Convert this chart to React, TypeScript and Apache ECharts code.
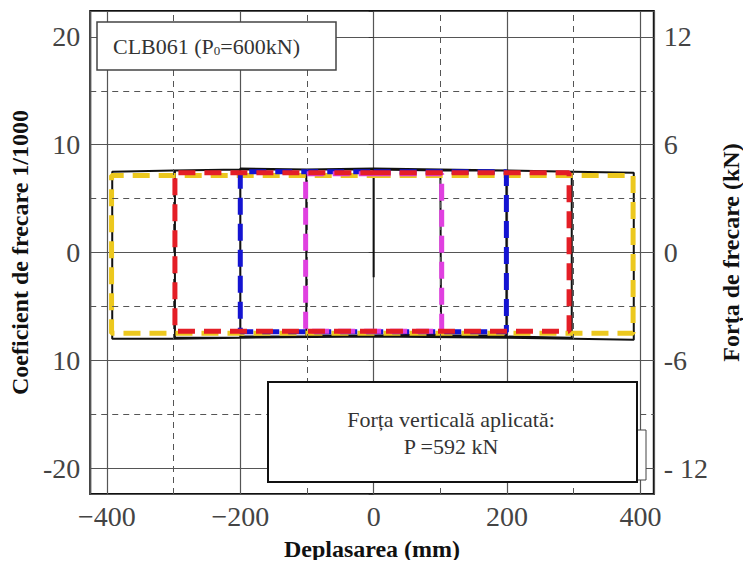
import React, { useEffect, useRef } from "react";
import * as echarts from "echarts";

// ---- data ----
const xLabelValues = [-400, -200, 0, 200, 400];
const xLabelTexts = ["\u2212400", "\u2212200", "0", "200", "400"];
const leftLabelValues = [20, 10, 0, -10, -20];
const leftLabelTexts = ["20", "10", "0", "10", "-20"];
const rightLabelTexts = ["12", "6", "0", "-6", "- 12"];
const minorGridX = [-300, -100, 100, 300];
const minorGridY = [-15, -5, 5, 15];

// measured cyclic test traces: [displacement mm, friction coefficient 1/1000]
const blackTrace: [number, number][] = [
  [0, -2.3], [0, 7.7], [100, 7.6], [101, -7.6], [0, -7.7], [-101, -7.7], [-101, 7.7],
  [0, 7.8], [199, 7.6], [199, -7.7], [0, -7.7], [-200, -7.8], [-200, 7.8], [-100, 7.7],
  [0, 7.7], [200, 7.6], [297, 7.5], [297, -7.9], [200, -7.8], [0, -7.8], [-200, -7.9],
  [-298, -7.9], [-298, 7.6], [-200, 7.7], [0, 7.7], [200, 7.6], [300, 7.5], [390, 7.4],
  [390, -8.1], [300, -8.0], [200, -7.9], [0, -7.8], [-200, -7.9], [-300, -8.0],
  [-392, -8.0], [-392, 7.5], [-300, 7.6], [-200, 7.7], [-100, 7.7], [0, 7.7]
];
const loop100: [number, number][] = [
  [0, 7.3], [102, 7.3], [102, -7.3], [-102, -7.3], [-102, 7.3], [0, 7.3]
];
const loop200: [number, number][] = [
  [0, 7.5], [199, 7.5], [199, -7.35], [-200, -7.35], [-200, 7.5], [0, 7.5]
];
const loop300: [number, number][] = [
  [0, 7.4], [293, 7.4], [293, -7.3], [-298, -7.3], [-298, 7.4], [0, 7.4]
];
const loop400: [number, number][] = [
  [0, 7.15], [389, 7.15], [389, -7.5], [-393, -7.5], [-393, 7.15], [0, 7.15]
];

const SERIF = "Liberation Serif";

function pick(values: number[], texts: string[], v: number): string {
  for (let i = 0; i < values.length; i++) {
    if (Math.abs(values[i] - v) < 1e-6) return texts[i];
  }
  return "";
}

export default function App() {
  const ref = useRef<HTMLDivElement>(null);

  useEffect(() => {
    if (!ref.current) return;
    const chart = echarts.init(ref.current, undefined, { renderer: "svg" });

    const dashed = (name: string, data: [number, number][], color: string, z: number) => ({
      name,
      type: "line",
      data,
      symbol: "none",
      z,
      lineStyle: { color, width: 5, type: [17, 9], cap: "butt" },
    });

    const option: any = {
      animation: false,
      backgroundColor: "#ffffff",
      textStyle: { fontFamily: SERIF },
      grid: {
        left: 87, right: 94, top: 11, bottom: 74,
        show: true, borderColor: "#111", borderWidth: 2, backgroundColor: "transparent",
      },
      xAxis: {
        type: "value", min: -425, max: 420, splitNumber: 5,
        name: "Deplasarea (mm)", nameLocation: "middle", nameGap: 43,
        nameTextStyle: { fontFamily: SERIF, fontWeight: "bold", fontSize: 24, color: "#111" },
        axisLine: { show: false }, axisTick: { show: false },
        axisLabel: {
          fontFamily: SERIF, fontSize: 28, color: "#444", margin: 8,
          formatter: (v: number) => pick(xLabelValues, xLabelTexts, v),
        },
        splitLine: { show: true, lineStyle: { color: "#555", width: 1.2 } },
      },
      yAxis: [
        {
          type: "value", min: -22.4, max: 22.4, splitNumber: 5, position: "left",
          name: "Coeficient de frecare 1/1000", nameLocation: "middle", nameGap: 52, nameRotate: 90,
          nameTextStyle: { fontFamily: SERIF, fontWeight: "bold", fontSize: 24, color: "#111" },
          axisLine: { show: false },
          axisTick: { show: true, length: 5, lineStyle: { color: "#333" } },
          axisLabel: {
            fontFamily: SERIF, fontSize: 28, color: "#444", margin: 10,
            formatter: (v: number) => pick(leftLabelValues, leftLabelTexts, v),
          },
          splitLine: { show: true, lineStyle: { color: "#555", width: 1.2 } },
        },
        {
          type: "value", min: -22.4, max: 22.4, splitNumber: 5, position: "right",
          name: "Forța de frecare (kN)", nameLocation: "middle", nameGap: 64, nameRotate: 90,
          nameTextStyle: { fontFamily: SERIF, fontWeight: "bold", fontSize: 24, color: "#111" },
          axisLine: { show: false }, axisTick: { show: false },
          axisLabel: {
            fontFamily: SERIF, fontSize: 28, color: "#444", margin: 10,
            formatter: (v: number) => pick(leftLabelValues, rightLabelTexts, v),
          },
          splitLine: { show: false },
        },
      ],
      series: [
        {
          name: "grid-minor", type: "line", data: [], z: 1, silent: true,
          markLine: {
            silent: true, symbol: "none", label: { show: false },
            lineStyle: { color: "#555", width: 1, type: [6, 5] },
            data: [
              ...minorGridX.map((v) => ({ xAxis: v })),
              ...minorGridY.map((v) => ({ yAxis: v })),
            ],
          },
        },
        {
          name: "measured", type: "line", data: blackTrace, symbol: "none", z: 3,
          lineStyle: { color: "#111", width: 2 },
        },
        dashed("±400 mm", loop400, "#ECC81E", 4),
        dashed("±200 mm", loop200, "#1414D2", 5),
        dashed("±100 mm", loop100, "#E040E0", 6),
        dashed("±300 mm", loop300, "#E41E26", 7),
      ],
      graphic: [
        {
          type: "rect", z: 100,
          shape: { x: 97, y: 22, width: 239, height: 48 },
          style: { fill: "#fff", stroke: "#444", lineWidth: 1.5 },
        },
        {
          type: "text", z: 101, x: 113, y: 46,
          style: {
            text: "CLB061 (P{sub|0}=600kN)",
            fontFamily: SERIF, fontSize: 22, fill: "#333",
            verticalAlign: "middle", align: "left",
            rich: {
              sub: { fontFamily: SERIF, fontSize: 13, fill: "#333", verticalAlign: "bottom", lineHeight: 14 },
            },
          },
        },
        {
          type: "rect", z: 100,
          shape: { x: 637, y: 430, width: 9, height: 50 },
          style: { fill: "#fff", stroke: "#444", lineWidth: 1 },
        },
        {
          type: "rect", z: 100,
          shape: { x: 268, y: 382, width: 369, height: 100 },
          style: { fill: "#fff", stroke: "#111", lineWidth: 2 },
        },
        {
          type: "text", z: 101, x: 451, y: 419,
          style: {
            text: "Forța verticală aplicată:",
            fontFamily: SERIF, fontSize: 22, fill: "#333",
            align: "center", verticalAlign: "middle",
          },
        },
        {
          type: "text", z: 101, x: 451, y: 446,
          style: {
            text: "P =592 kN",
            fontFamily: SERIF, fontSize: 22, fill: "#333",
            align: "center", verticalAlign: "middle",
          },
        },
      ],
    };

    chart.setOption(option);
    return () => chart.dispose();
  }, []);

  return <div ref={ref} style={{ width: 751, height: 568, margin: -8 }} />;
}
